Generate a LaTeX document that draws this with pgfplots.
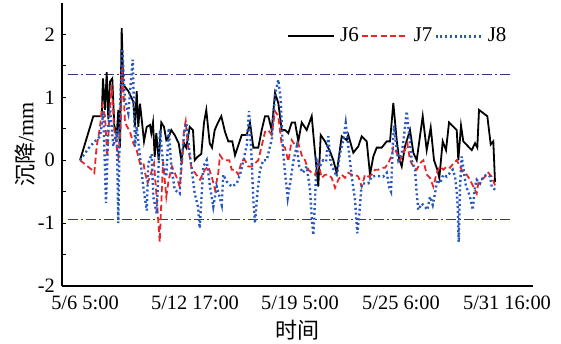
\documentclass[border=0pt]{standalone}
\usepackage{fontspec}
\setmainfont{Liberation Serif}
\newfontfamily\cjk{Noto Sans CJK SC}
\usepackage{pgfplots}
\pgfplotsset{compat=1.18}
\definecolor{jred}{RGB}{232,38,42}
\definecolor{jblue}{RGB}{38,88,192}
\definecolor{refc}{RGB}{55,55,125}
\begin{document}
\begin{tikzpicture}
\useasboundingbox (-31pt,-28.5pt) rectangle (249.5pt,143pt);
\begin{axis}[
  at={(0,0)}, anchor=south west, scale only axis,
  width=235.5pt, height=141.5pt,
  xmin=62, xmax=533, ymin=-2, ymax=2.5,
  axis x line*=bottom, axis y line*=left,
  axis line style={-, line width=0.6pt},
  xtick={85,195,300,401,507},
  xticklabels={5/6 5:00,5/12 17:00,5/19 5:00,5/25 6:00,5/31 16:00},
  xtick style={draw=none},
  ytick={-2,-1,0,1,2},
  minor ytick={-1.5,-0.5,0.5,1.5},
  tick align=inside,
  major tick length=2pt, minor tick length=2pt,
  ytick style={black, line width=0.5pt},
  minor tick style={black, line width=0.5pt},
  tick label style={font=\fontsize{10.2}{12}\selectfont},
  xticklabel style={yshift=-1.5pt},
  /pgf/number format/assume math mode=true,
  ylabel={{\cjk 沉降}/mm},
  ylabel style={at={(axis description cs:-0.0786,0.5)}, anchor=center, font=\fontsize{11}{13}\selectfont},
  xlabel={{\cjk 时间}},
  xlabel style={at={(axis description cs:0.5,0)}, anchor=center, yshift=-22pt, font=\fontsize{11}{13}\selectfont},
  legend style={at={(axis cs:287,1.97)}, anchor=west, draw=none, fill=none, inner sep=0pt,
    font=\fontsize{10.5}{12}\selectfont, nodes={inner xsep=1pt, inner ysep=1pt},
    /tikz/every odd column/.append style={column sep=1.5pt}},
  legend columns=-1,
  legend image code/.code={\draw[#1] (0pt,0pt) -- (23pt,0pt);},
]
\addplot[refc, line width=0.5pt, dash pattern=on 5pt off 1.5pt on 1pt off 1.5pt, forget plot] coordinates {(68,1.37) (510,1.37)};
\addplot[refc, line width=0.5pt, dash pattern=on 5pt off 1.5pt on 1pt off 1.5pt, forget plot] coordinates {(68,-0.94) (510,-0.94)};

\addplot[black, line width=0.9pt] coordinates {
(80,0) (93.3,0.7) (101.7,0.7) (103,1.3) (105,0.8) (106.7,1.4) (108.3,0.65) (110,1.25) (112.3,1.3)
(114.3,0.55) (116.7,0.4) (118.3,0.8) (120,0.2) (121.7,2.1) (123.3,1.2) (128.3,1.1) (133.3,0.93)
(135,0.53) (136.7,1.1) (138.3,0.53) (140,0.9) (141.7,0.65) (144,0.3) (146.7,0.53) (150,0.56)
(151.3,0.43) (153,0.6) (154.7,0.05) (156.3,0.43) (158.7,0) (161.3,0.6) (164,0.53) (166.3,0.32)
(168.7,0.37) (171.3,0.48) (174.7,0.4) (178.7,0.27) (181.3,0) (184,0.27) (186.3,0.2) (189.7,0.53)
(193,0.48) (194.7,0) (197.3,0.05) (201.3,0.1) (204,0.6) (206.3,0.8) (208,0.53) (209.7,0.27)
(212,0.2) (214.7,0.48) (218,0.6) (221.3,0.7) (225,0.45) (228.3,0.3) (232.3,0.3) (235,0.08)
(241.7,0.4) (246.7,0.4) (250,0.6) (253.3,0.2) (258.3,0.2) (261.7,0.48) (265,0.7) (268.3,0.7)
(271.7,0.48) (275,1.07) (278.3,0.91) (281.7,0.48) (285,0.48) (288.3,0.43) (291.7,0.6) (295,0.6)
(298.3,0.3) (301.7,0.6) (306.7,0.48) (311.7,0.7) (315,0.12) (318.3,-0.42) (320.7,0.4) (325,0.3)
(330,0.14) (333.3,0) (336.7,-0.2) (341.7,0.38) (346.7,0.32) (348.3,0.4) (353.3,0.12) (358.3,0.22)
(361.7,0.38) (366.7,0.3) (370,-0.23) (373.3,0.06) (376.7,0.2) (381.7,0.2) (386.7,0.3) (390,0.3)
(393.3,0.91) (396.7,0.32) (399,0.03) (401.7,-0.1) (405,0.22) (410,0.48) (413.3,0.12) (416.7,0)
(422.7,0.7) (426.7,0.16) (430.7,0.52) (434,0) (437.3,-0.15) (439.3,-0.28) (442.7,0.3) (446,0.16)
(449,0.6) (456.7,0.48) (458.3,0) (461,0.55) (463.3,0.3) (471.7,0.16) (475,0.27) (477.3,0.2)
(479,0.8) (487.3,0.7) (490.7,0.25) (493.3,0.3) (495,-0.35)
};
\addlegendentry{J6}

\addplot[jred, line width=0.9pt, dash pattern=on 3pt off 1.7pt] coordinates {
(80,0) (91.7,-0.15) (94.3,-0.2) (96.7,0.22) (100,0.53) (102.3,0.88) (105,0.7) (107.3,0.06)
(109.3,0.65) (111.7,1.2) (114.3,0.48) (116.7,0.22) (118.3,0.06) (120.7,0.52) (122.3,1.5) (125,0.6)
(127.3,0.53) (130,0.45) (133.3,0.27) (136.7,0.16) (140,-0.05) (143.3,-0.03) (145,-0.2) (147.7,-0.36)
(150,-0.26) (154,-0.05) (156.3,-0.52) (158,-0.9) (159.7,-1.3) (163,-0.02) (166.3,-0.58) (168.7,-0.31)
(172,-0.1) (176.3,-0.26) (179.7,-0.42) (182.3,0) (184,0.48) (185.7,0.62) (188,0.22) (191.3,-0.1)
(194,-0.18) (200,-0.31) (205,-0.15) (208.3,-0.1) (211.7,-0.26) (215,-0.47) (218.3,-0.2) (220,0.08)
(223.3,0) (229.3,0) (231.7,-0.15) (235,-0.15) (238.3,-0.23) (241.7,0) (245,0) (248.3,-0.1)
(251.7,-0.1) (258.3,0) (265,0.45) (268.3,0.48) (271.7,0.4) (275,0.78) (278.3,0.7) (281.7,0.24)
(285,0.2) (288.3,-0.02) (291.7,0.32) (295,0.24) (298.3,0.27) (301.7,0.08) (305,0) (308.3,-0.15)
(311.7,-0.2) (315,-0.23) (318.3,-0.05) (321.7,-0.28) (325,-0.23) (328.3,-0.23) (331.7,-0.28)
(335,-0.44) (338.3,-0.31) (341.7,-0.23) (345,-0.28) (348.3,-0.2) (351.7,-0.23) (355,-0.23)
(358.3,-0.26) (361.7,-0.42) (365,-0.23) (368.3,-0.26) (371.7,-0.23) (375,-0.15) (378.3,-0.15)
(381.7,-0.12) (385,-0.12) (388.3,-0.05) (391.7,0.08) (393.3,0.2) (396.7,0.12) (400,0) (405,0.16)
(407.3,0.27) (410,0) (413.3,-0.1) (416.7,-0.15) (420,-0.05) (423.3,0) (426.7,-0.23) (430,-0.28)
(433.3,-0.42) (436.7,-0.2) (440,-0.1) (443.3,-0.15) (446.7,-0.1) (450,-0.12) (453.3,-0.05)
(456.7,0) (460,-0.1) (463.3,-0.2) (466.7,-0.23) (470,-0.31) (473.3,-0.42) (476.7,-0.53)
(478.3,-0.36) (481.7,-0.31) (485,-0.26) (488.3,-0.2) (491.7,-0.26) (495,-0.4)
};
\addlegendentry{J7}

\addplot[jblue, line width=1.2pt, dash pattern=on 1pt off 1.4pt] coordinates {
(80,0) (90,0.22) (100,0.38) (103.3,0.75) (106,-0.68) (108.3,0.53) (110,0.85) (113.3,0.22)
(116.7,0.48) (118.3,-1.0) (120,0.85) (122.3,1.77) (125,0.96) (128.3,0.75) (132.7,1.6) (135,0.22)
(136.7,0.53) (140,0.06) (141.7,-0.2) (143.3,-0.42) (146.7,-0.8) (148.3,-0.05) (151.7,0.1)
(153.3,-0.58) (156.7,-0.85) (160,0.48) (163.3,-0.1) (166.3,-0.26) (168.7,0.51) (171.3,-0.1)
(174.7,-0.47) (179.7,-0.53) (181.3,-0.05) (184,0.4) (186.3,0.59) (189.7,0.11) (194.7,-0.53)
(198,-0.74) (199.7,-1.08) (203.3,-0.1) (206.7,0) (210,-0.42) (213.3,-0.74) (216.7,-0.42)
(221.7,-0.71) (223.3,-0.23) (226.7,-0.34) (231.7,-0.42) (236.7,-0.37) (240,-0.23) (243.3,-0.02)
(246.7,0.24) (249,0.78) (251.7,0) (253.3,-0.63) (255,-1.0) (257.3,-0.53) (260,-0.15) (263.3,0)
(266.7,0) (270,0.22) (271.7,0.32) (274,0.85) (276,1.12) (278.3,1.28) (280.7,0.96) (282.7,0.22)
(285,-0.2) (287.7,-0.6) (290,-0.37) (293.3,-0.02) (296.7,0.22) (299.3,-0.1) (303,-0.2)
(306.7,-0.1) (310,-0.47) (311.7,-0.9) (313.3,-1.19) (315,-0.63) (316.7,0) (320,-0.1) (323,0)
(326,-0.02) (328.3,0.38) (330.7,-0.05) (336.7,-0.26) (340,0.11) (343.3,0.32) (345.7,0.59)
(348.3,0.22) (351.7,-0.26) (355,-0.63) (357.3,-1.16) (359.3,-0.85) (361.7,-0.37) (368.3,-0.37)
(371.7,-0.26) (376,-0.25) (383.3,-0.26) (386.7,-0.2) (389.3,-0.44) (391,-0.5) (392.7,0.22)
(394,0.55) (396.7,0.16) (398.3,0) (401.7,0.11) (404,0.38) (406.7,0.78) (409.3,0.38) (411.7,0)
(415,-0.15) (416.7,-0.53) (418.3,-0.79) (421.7,-0.69) (425,-0.74) (427.3,-0.79) (430,-0.58)
(432.7,-0.71) (435,-0.53) (437.3,-0.31) (440,-0.37) (443.3,-0.23) (446.7,-0.26) (452.7,-0.15)
(455,-0.26) (456.7,-0.5) (457.7,-0.74) (458.7,-1.3) (460,-0.42) (461.7,0.06) (466,-0.42)
(468.3,-0.5) (470.7,-0.63) (472.7,-0.79) (475,-0.42) (476.7,-0.31) (480,-0.37) (483.3,-0.26)
(486.7,-0.23) (490,-0.26) (491.7,-0.42) (495,-0.47)
};
\addlegendentry{J8}
\end{axis}
\end{tikzpicture}
\end{document}
